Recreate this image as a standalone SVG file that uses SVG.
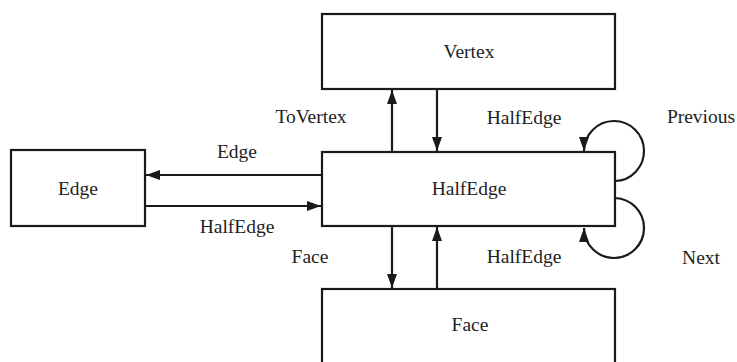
<svg xmlns="http://www.w3.org/2000/svg" width="737" height="362" viewBox="0 0 737 362">
  <style>
    .box { fill: #ffffff; stroke: #1a1a1a; stroke-width: 2.2; }
    .lbl { font-family: "Liberation Serif", "Times New Roman", serif; font-size: 19.5px; fill: #1e1e1e; text-anchor: middle; }
    .wire { fill: none; stroke: #1a1a1a; stroke-width: 2.2; marker-end: url(#head); }
  </style>
  <defs>
    <marker id="head" viewBox="0 0 14 10" refX="14" refY="5" markerWidth="14" markerHeight="10" markerUnits="userSpaceOnUse" orient="auto">
      <path d="M0,0 L14,5 L0,10 Z" fill="#1a1a1a"/>
    </marker>
  </defs>
  <rect width="737" height="362" fill="#ffffff"/>

  <g id="vertex">
    <rect class="box" x="322" y="14" width="293" height="75"/>
    <text class="lbl" x="469" y="58">Vertex</text>
  </g>
  <g id="halfedge">
    <rect class="box" x="322" y="152" width="293" height="74"/>
    <text class="lbl" x="469" y="195">HalfEdge</text>
  </g>
  <g id="edge">
    <rect class="box" x="11" y="150" width="134" height="76"/>
    <text class="lbl" x="78" y="195">Edge</text>
  </g>
  <g id="face">
    <rect class="box" x="322" y="289" width="293" height="90"/>
    <text class="lbl" x="470" y="331">Face</text>
  </g>

  <g id="connectors">
    <!-- HalfEdge <-> Vertex -->
    <line class="wire" x1="392" y1="152" x2="392" y2="90"/>
    <line class="wire" x1="437" y1="89" x2="437" y2="151"/>
    <!-- HalfEdge <-> Edge -->
    <line class="wire" x1="322" y1="175" x2="146" y2="175"/>
    <line class="wire" x1="145" y1="206" x2="321" y2="206"/>
    <!-- HalfEdge <-> Face -->
    <line class="wire" x1="392" y1="226" x2="392" y2="288"/>
    <line class="wire" x1="437" y1="289" x2="437" y2="227"/>
    <!-- Previous / Next self loops -->
    <path class="wire" d="M615,181 A30,30 0 1 0 584,151"/>
    <path class="wire" d="M615,198 A30,30 0 1 1 584,228"/>
  </g>

  <g id="labels">
    <text class="lbl" x="311" y="123">ToVertex</text>
    <text class="lbl" x="524" y="124">HalfEdge</text>
    <text class="lbl" x="701" y="123">Previous</text>
    <text class="lbl" x="237" y="158">Edge</text>
    <text class="lbl" x="237" y="233">HalfEdge</text>
    <text class="lbl" x="310" y="263">Face</text>
    <text class="lbl" x="524" y="263">HalfEdge</text>
    <text class="lbl" x="701" y="264">Next</text>
  </g>
</svg>
